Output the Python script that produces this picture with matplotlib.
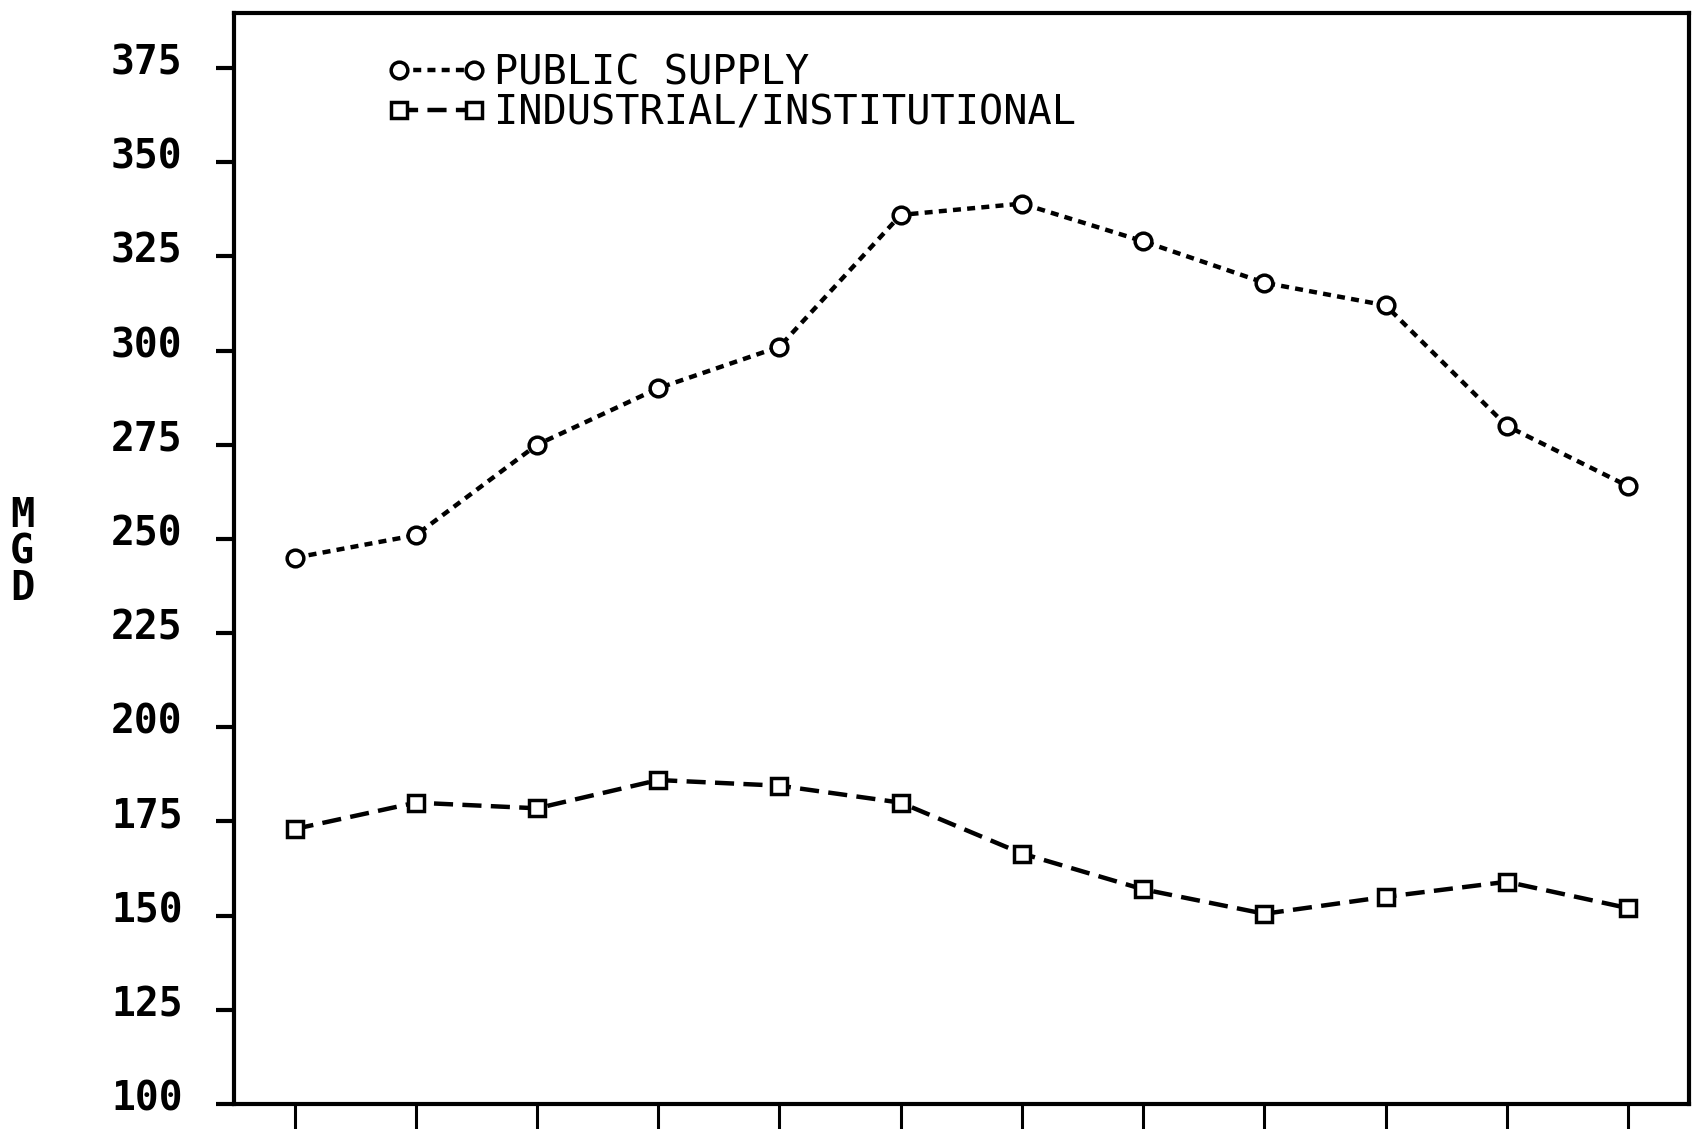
import numpy as np
import matplotlib
matplotlib.use('Agg')
import matplotlib.pyplot as plt
import matplotlib.transforms as mtransforms

# twelve periods along the x axis (labels are cut off in the original)
periods = list(range(1, 13))
# million gallons per day
public_supply = [245, 251, 275, 290, 301, 336, 339, 329, 318, 312, 280, 264]
industrial = [173, 180, 178.5, 186, 184.5, 180, 166.5, 157, 150.5, 155, 159, 152]

yticks = list(range(100, 376, 25))

font = 'DejaVu Sans Mono'

fig = plt.figure(figsize=(16.92, 11.29), dpi=100, facecolor='white')
ax = fig.add_axes([0.1383, 0.0221, 0.8597, 0.9664])

ax.plot(periods, public_supply, color='black', lw=3.2,
        dashes=(1.8, 1.4), marker='o', ms=12, mfc='white', mec='black',
        mew=2.5, label='PUBLIC SUPPLY')
ax.plot(periods, industrial, color='black', lw=3.2,
        dashes=(4.3, 2.1), marker='s', ms=12, mfc='white', mec='black',
        mew=2.5, label='INDUSTRIAL/INSTITUTIONAL')

ax.set_xlim(0.5, 12.5)
ax.set_ylim(100, 389.6)
ax.set_xticks(periods)
ax.set_xticklabels([])
ax.set_yticks(yticks)
ax.set_yticklabels([str(v) for v in yticks], fontfamily=font,
                   fontweight='bold', fontsize=28.5)

ax.tick_params(axis='y', direction='out', length=13, width=3, pad=24)
ax.tick_params(axis='x', direction='out', length=40, width=2.2)
for s in ax.spines.values():
    s.set_linewidth(3)

# labels sit a little above their ticks in the original
shift = mtransforms.ScaledTranslation(0, 0.09, fig.dpi_scale_trans)
for lbl in ax.get_yticklabels():
    lbl.set_transform(lbl.get_transform() + shift)

fig.text(0.013, 0.511, 'M\nG\nD', ha='center', va='center',
         fontfamily=font, fontweight='bold', fontsize=29, linespacing=0.92)

leg = ax.legend(loc='upper left', bbox_to_anchor=(0.0943, 0.978),
                frameon=False, numpoints=2, handlelength=2.45,
                handletextpad=0.2, labelspacing=0.0, borderaxespad=0,
                prop={'family': font, 'size': 29})

fig.savefig('out.png', dpi=100, facecolor='white')
